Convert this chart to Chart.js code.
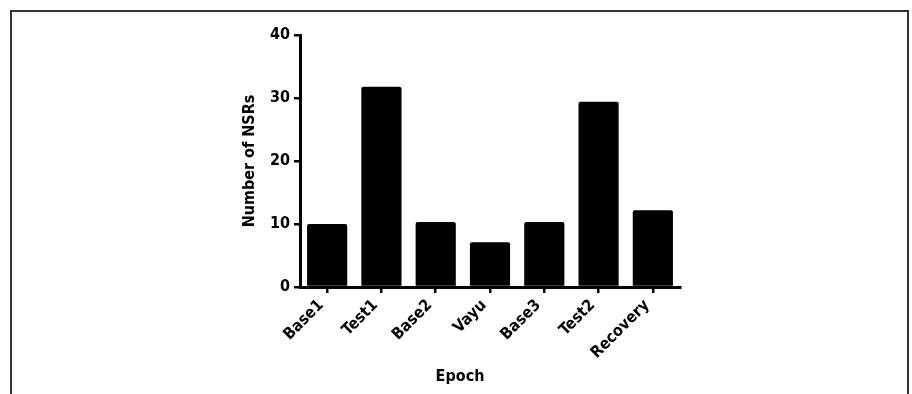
<!DOCTYPE html>
<html>
<head>
<meta charset="utf-8">
<script src="https://cdn.jsdelivr.net/npm/chart.js@4"></script>
<style>
  html, body { margin: 0; padding: 0; background: #fff; }
  .wrap { position: relative; width: 912px; height: 394px; overflow: hidden; }
  .frame {
    position: absolute; left: 10px; top: 10px; width: 895px; height: 400px;
    border: 2px solid #333; border-bottom: none;
  }
  canvas { position: absolute; left: 0; top: 0; }
</style>
</head>
<body>
<div class="wrap">
  <div class="frame"></div>
  <canvas id="chart" width="912" height="394"></canvas>
</div>
<script>
const epochs = ["Base1", "Test1", "Base2", "Vayu", "Base3", "Test2", "Recovery"];
const nsrCounts = [10.0, 31.8, 10.3, 7.1, 10.3, 29.4, 12.2];
const yTicks = [0, 10, 20, 30, 40];

const FONT = "'DejaVu Sans Condensed', 'DejaVu Sans', sans-serif";
const font = { family: FONT, size: 16, weight: "bold" };

// x axis title drawn a little left of centre, as in the original figure
const epochTitle = {
  id: "epochTitle",
  afterDraw(chart) {
    const x = chart.scales.x;
    const ctx = chart.ctx;
    ctx.save();
    ctx.font = "bold 16px " + FONT;
    ctx.fillStyle = "#000";
    ctx.textAlign = "center";
    ctx.textBaseline = "middle";
    ctx.fillText("Epoch", (x.left + x.right) / 2 - 30, x.bottom - 17);
    ctx.restore();
  },
};

const ctx = document.getElementById("chart").getContext("2d");
new Chart(ctx, {
  type: "bar",
  data: {
    labels: epochs,
    datasets: [
      {
        data: nsrCounts,
        backgroundColor: "#000",
        borderColor: "#000",
        borderWidth: 0,
        borderRadius: 2,
        borderSkipped: "bottom",
        barPercentage: 0.74,
        categoryPercentage: 1,
      },
    ],
  },
  options: {
    responsive: false,
    animation: false,
    layout: { padding: { left: 236, right: 232, top: 35, bottom: 0 } },
    plugins: { legend: { display: false }, tooltip: { enabled: false } },
    scales: {
      x: {
        offset: true,
        afterFit: (scale) => { scale.height = 107; },
        border: { display: true, color: "#000", width: 3 },
        grid: {
          offset: false,
          drawOnChartArea: false,
          drawTicks: true,
          tickLength: 6,
          color: "#000",
          lineWidth: 2.5,
        },
        ticks: {
          color: "#000",
          font: font,
          minRotation: 45,
          maxRotation: 45,
          padding: 3,
          labelOffset: -6,
          autoSkip: false,
        },
        title: { display: false },
      },
      y: {
        min: yTicks[0],
        max: yTicks[yTicks.length - 1],
        afterFit: (scale) => { scale.width = 64; },
        afterBuildTicks: (scale) => { scale.ticks = yTicks.map((v) => ({ value: v })); },
        border: { display: true, color: "#000", width: 3 },
        grid: {
          drawOnChartArea: false,
          drawTicks: true,
          tickLength: 6,
          color: "#000",
          lineWidth: 2.5,
        },
        ticks: { color: "#000", font: font, padding: 4 },
        title: {
          display: true,
          text: "Number of NSRs",
          color: "#000",
          font: font,
          padding: { top: 4, bottom: 4 },
        },
      },
    },
  },
  plugins: [epochTitle],
});
</script>
</body>
</html>
